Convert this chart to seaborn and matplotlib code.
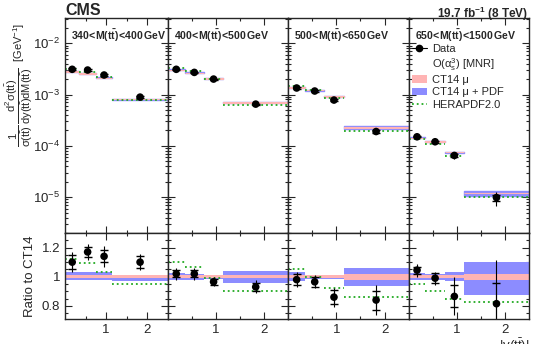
import numpy as np
import pandas as pd
import matplotlib
matplotlib.use('Agg')
import matplotlib.pyplot as plt
from matplotlib.ticker import MultipleLocator, FixedLocator, LogLocator, NullFormatter, FormatStrFormatter
from matplotlib.lines import Line2D
from matplotlib.patches import Patch
import seaborn as sns

# |y(tt)| bins and M(tt) ranges
y_edges = [0.0, 0.35, 0.75, 1.15, 2.5]
mass_labels = ['340', '400', '500', '650', '1500']

# normalised cross section (upper panel), one list per mass bin
xsec_m1 = [3.1e-3, 3.0e-3, 2.4e-3, 8.9e-4]
xsec_m2 = [3.1e-3, 2.7e-3, 2.0e-3, 6.5e-4]
xsec_m3 = [1.34e-3, 1.17e-3, 7.8e-4, 1.9e-4]
xsec_m4 = [1.5e-4, 1.2e-4, 6.5e-5, 9.8e-6]

# data / CT14
ratio_m1 = [1.10, 1.17, 1.14, 1.10]
ratio_m2 = [1.02, 1.02, 0.965, 0.93]
ratio_m3 = [0.98, 0.965, 0.86, 0.84]
ratio_m4 = [1.045, 0.99, 0.865, 0.815]

# relative stat and total uncertainties
stat_m1 = [0.05, 0.035, 0.04, 0.04]
stat_m2 = [0.025, 0.025, 0.02, 0.025]
stat_m3 = [0.04, 0.035, 0.05, 0.065]
stat_m4 = [0.025, 0.035, 0.075, 0.14]
tot_m1 = [0.07, 0.055, 0.07, 0.055]
tot_m2 = [0.04, 0.04, 0.03, 0.045]
tot_m3 = [0.05, 0.045, 0.065, 0.10]
tot_m4 = [0.045, 0.045, 0.13, 0.30]

# HERAPDF2.0 / CT14
hera_m1 = [1.125, 1.095, 1.03, 0.95]
hera_m2 = [1.10, 1.065, 0.99, 0.905]
hera_m3 = [1.055, 1.0, 0.925, 0.86]
hera_m4 = [0.95, 0.905, 0.85, 0.83]

# CT14 mu + PDF band (low, high) relative to CT14
pdf_lo_m1 = [0.979, 0.979, 0.979, 0.972]
pdf_hi_m1 = [1.032, 1.032, 1.032, 1.014]
pdf_lo_m2 = [0.975, 0.98, 0.985, 0.96]
pdf_hi_m2 = [1.025, 1.02, 1.015, 1.037]
pdf_lo_m3 = [0.97, 0.985, 0.985, 0.933]
pdf_hi_m3 = [1.03, 1.015, 1.015, 1.057]
pdf_lo_m4 = [0.975, 0.98, 0.97, 0.875]
pdf_hi_m4 = [1.025, 1.02, 1.03, 1.10]

# CT14 mu band half width
mu_m1 = [0.01, 0.01, 0.01, 0.01]
mu_m2 = [0.01, 0.01, 0.01, 0.01]
mu_m3 = [0.01, 0.01, 0.01, 0.02]
mu_m4 = [0.01, 0.01, 0.01, 0.02]

panels = [
    (xsec_m1, ratio_m1, stat_m1, tot_m1, hera_m1, pdf_lo_m1, pdf_hi_m1, mu_m1),
    (xsec_m2, ratio_m2, stat_m2, tot_m2, hera_m2, pdf_lo_m2, pdf_hi_m2, mu_m2),
    (xsec_m3, ratio_m3, stat_m3, tot_m3, hera_m3, pdf_lo_m3, pdf_hi_m3, mu_m3),
    (xsec_m4, ratio_m4, stat_m4, tot_m4, hera_m4, pdf_lo_m4, pdf_hi_m4, mu_m4),
]

sns.set_style('ticks')
plt.rcParams['font.family'] = ['Liberation Sans', 'DejaVu Sans']
plt.rcParams['mathtext.fontset'] = 'custom'
plt.rcParams['mathtext.rm'] = 'Liberation Sans'
plt.rcParams['mathtext.it'] = 'Liberation Sans:italic'
plt.rcParams['mathtext.bf'] = 'Liberation Sans:bold'
plt.rcParams['mathtext.sf'] = 'Liberation Sans'
plt.rcParams['mathtext.default'] = 'regular'

c_pink = '#ffb4b4'
c_blue = '#8c8cff'
c_green = '#22aa22'

W, H = 535, 344
fig = plt.figure(figsize=(W / 100, H / 100), dpi=100)
gs = fig.add_gridspec(2, 4, left=65 / W, right=529 / W, top=1 - 18 / H, bottom=1 - 319 / H,
                      hspace=0, wspace=0, width_ratios=[102.5, 120, 120, 120], height_ratios=[215, 86])

centers = [(y_edges[i] + y_edges[i + 1]) / 2 for i in range(4)]

for j, (xs, rat, st, tot, her, plo, phi, mu) in enumerate(panels):
    ax = fig.add_subplot(gs[0, j])
    axr = fig.add_subplot(gs[1, j])
    xs = np.array(xs)
    rat = np.array(rat)
    ct14 = xs / rat

    for i in range(4):
        x0, x1 = y_edges[i], y_edges[i + 1]
        # upper panel: predictions
        ax.fill_between([x0, x1], ct14[i] * plo[i], ct14[i] * phi[i], color=c_blue, lw=1.0, ec=c_blue)
        ax.fill_between([x0, x1], ct14[i] * (1 - mu[i]), ct14[i] * (1 + mu[i]), color=c_pink, lw=0.8, ec=c_pink)
        ax.hlines(ct14[i] * her[i], x0, x1, color=c_green, ls=':', lw=1.3)
        # ratio panel
        axr.fill_between([x0, x1], plo[i], phi[i], color=c_blue, lw=0)
        axr.fill_between([x0, x1], 1 - mu[i], 1 + mu[i], color=c_pink, lw=0)
        axr.hlines(her[i], x0, x1, color=c_green, ls=':', lw=1.3)

    df = pd.DataFrame({'y': centers, 'xsec': xs, 'ratio': rat})
    ax.errorbar(centers, xs, yerr=xs * np.array(tot), fmt='none', ecolor='k', lw=0.8)
    ax.errorbar(centers, xs, yerr=xs * np.array(st), fmt='none', ecolor='k', lw=0.8, capsize=3)
    sns.scatterplot(data=df, x='y', y='xsec', ax=ax, color='k', s=30, edgecolor='none', zorder=5)
    axr.errorbar(centers, rat, yerr=tot, fmt='none', ecolor='k', lw=0.8)
    axr.errorbar(centers, rat, yerr=st, fmt='none', ecolor='k', lw=0.8, capsize=3)
    sns.scatterplot(data=df, x='y', y='ratio', ax=axr, color='k', s=30, edgecolor='none', zorder=5)

    ax.set_yscale('log')
    ax.set_ylim(2e-6, 3.1e-2)
    axr.set_ylim(0.71, 1.30)
    for a in (ax, axr):
        a.set_xlim(0, 2.5)
        a.xaxis.set_major_locator(FixedLocator([1, 2]))
        a.xaxis.set_minor_locator(FixedLocator([0.5, 1.5]))
        a.tick_params(which='both', direction='in', top=True, right=True, labelsize=9.5)
        a.tick_params(which='major', length=5, width=0.8)
        a.tick_params(which='minor', length=2.5, width=0.8)
        a.set_xlabel('')
        a.set_ylabel('')
        for s in a.spines.values():
            s.set_linewidth(1.0)
    ax.yaxis.set_major_locator(LogLocator(base=10, numticks=10))
    ax.yaxis.set_minor_locator(LogLocator(base=10, subs=np.arange(2, 10), numticks=20))
    ax.yaxis.set_minor_formatter(NullFormatter())
    ax.tick_params(labelbottom=False)
    axr.yaxis.set_major_locator(MultipleLocator(0.2))
    axr.yaxis.set_minor_locator(MultipleLocator(0.05))
    axr.yaxis.set_major_formatter(FormatStrFormatter('%g'))
    if j > 0:
        ax.tick_params(labelleft=False)
        axr.tick_params(labelleft=False)
    else:
        ax.set_ylabel(r'$\dfrac{1}{\sigma(t\bar{t})}\,\dfrac{d^{2}\sigma(t\bar{t})}{dy(t\bar{t})dM(t\bar{t})}$  [GeV$^{-1}$]',
                      fontsize=8)
        ax.yaxis.set_label_coords(-0.29, 0.69)
        axr.set_ylabel('Ratio to CT14', fontsize=9.5, labelpad=4)

    lab = r'$\mathbf{%s\!<\!M(t\bar{t})\!<\!%s\,GeV}$' % (mass_labels[j], mass_labels[j + 1])
    ax.text(0.06 if j == 0 else 0.05, 0.955, lab, transform=ax.transAxes, fontsize=7.6, va='top', ha='left')

    if j == 3:
        handles = [
            Line2D([], [], marker='o', color='k', ls='-', lw=0.8, markersize=4.5),
            Line2D([], [], color='none'),
            Patch(facecolor=c_pink, edgecolor='none'),
            Patch(facecolor=c_blue, edgecolor='none'),
            Line2D([], [], color=c_green, ls=':', lw=1.3),
        ]
        labels = ['Data', r'O($\alpha_s^3$) [MNR]', 'CT14 μ', 'CT14 μ + PDF', 'HERAPDF2.0']
        ax.legend(handles, labels, loc='upper left', bbox_to_anchor=(-0.03, 0.91), frameon=False,
                  fontsize=8, handlelength=1.4, handletextpad=0.4, labelspacing=0.2,
                  borderaxespad=0.2)

fig.text(65 / W, 1 - 3 / H, 'CMS', fontsize=11.5, fontweight='bold', ha='left', va='top')
fig.text(528 / W, 1 - 5 / H, r'19.7 fb$^{\mathbf{-1}}$ (8 TeV)', fontsize=8.5, fontweight='bold',
         ha='right', va='top')
fig.text(530 / W, 1 - 337 / H, r'|y($t\bar{t}$)|', fontsize=9.5, ha='right', va='top')

fig.savefig('out.png', dpi=100)
